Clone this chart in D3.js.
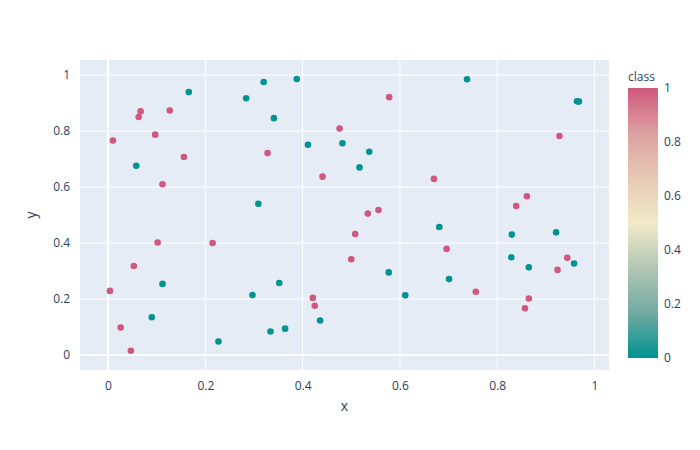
<!DOCTYPE html>
<html>
<head>
<meta charset="utf-8">
<script src="https://cdn.jsdelivr.net/npm/d3@7"></script>
<style>
body { margin: 0; background: #fff; }
text { font-family: "Open Sans", Verdana, sans-serif; fill: #2a3f5f; }
</style>
</head>
<body>
<svg id="chart" width="700" height="450"></svg>
<script>
// class 0 (teal) points
var teal = [
  [0.166,0.939],[0.320,0.975],[0.388,0.986],[0.284,0.917],[0.341,0.846],[0.411,0.751],
  [0.482,0.756],[0.058,0.676],[0.309,0.540],[0.112,0.254],[0.352,0.257],[0.297,0.214],
  [0.090,0.135],[0.436,0.123],[0.334,0.084],[0.364,0.094],[0.227,0.048],[0.738,0.985],
  [0.964,0.906],[0.968,0.905],[0.537,0.726],[0.517,0.670],[0.681,0.457],[0.830,0.430],
  [0.921,0.438],[0.829,0.349],[0.958,0.327],[0.865,0.313],[0.577,0.295],[0.701,0.271],
  [0.611,0.213]
];
// class 1 (rose) points
var rose = [
  [0.067,0.870],[0.127,0.873],[0.063,0.850],[0.476,0.809],[0.010,0.766],[0.097,0.787],
  [0.156,0.707],[0.328,0.721],[0.441,0.637],[0.112,0.610],[0.102,0.402],[0.215,0.400],
  [0.053,0.318],[0.004,0.229],[0.421,0.204],[0.425,0.176],[0.026,0.098],[0.047,0.015],
  [0.578,0.921],[0.928,0.782],[0.670,0.629],[0.861,0.567],[0.839,0.532],[0.556,0.518],
  [0.534,0.505],[0.508,0.432],[0.696,0.379],[0.500,0.342],[0.944,0.347],[0.924,0.304],
  [0.756,0.226],[0.865,0.202],[0.857,0.167]
];
var xTicks = [0, 0.2, 0.4, 0.6, 0.8, 1];
var yTicks = [0, 0.2, 0.4, 0.6, 0.8, 1];
var cbTicks = [0, 0.2, 0.4, 0.6, 0.8, 1];
var tealrose = ["rgb(0,147,146)","rgb(114,170,161)","rgb(177,199,179)","rgb(241,234,200)",
  "rgb(230,201,180)","rgb(220,160,160)","rgb(208,88,126)"];

var points = teal.map(function (d) { return {x: d[0], y: d[1], c: 0}; })
  .concat(rose.map(function (d) { return {x: d[0], y: d[1], c: 1}; }));

var svg = d3.select("#chart");
var L = 80, R = 609, T = 60, B = 370;
var x = d3.scaleLinear().domain([-0.0576, 1.0298]).range([L, R]);
var y = d3.scaleLinear().domain([-0.0536, 1.0536]).range([B, T]);
var color = d3.scaleLinear()
  .domain(tealrose.map(function (d, i) { return i / (tealrose.length - 1); }))
  .range(tealrose);

svg.append("rect").attr("x", L).attr("y", T).attr("width", R - L).attr("height", B - T)
  .attr("fill", "#e5ecf6");

svg.append("g").selectAll("line").data(xTicks).enter().append("line")
  .attr("x1", function (d) { return x(d); }).attr("x2", function (d) { return x(d); })
  .attr("y1", T).attr("y2", B)
  .attr("stroke", "#fff").attr("stroke-width", function (d) { return d === 0 ? 2 : 1; });
svg.append("g").selectAll("line").data(yTicks).enter().append("line")
  .attr("y1", function (d) { return y(d); }).attr("y2", function (d) { return y(d); })
  .attr("x1", L).attr("x2", R)
  .attr("stroke", "#fff").attr("stroke-width", function (d) { return d === 0 ? 2 : 1; });

var fmt = function (d) { return d === 0 || d === 1 ? String(d) : d3.format(".1f")(d); };

var xAxis = svg.append("g").attr("transform", "translate(0," + (B + 6) + ")")
  .call(d3.axisBottom(x).tickValues(xTicks).tickFormat(fmt).tickSize(0));
var yAxis = svg.append("g").attr("transform", "translate(" + (L - 7) + ",0)")
  .call(d3.axisLeft(y).tickValues(yTicks).tickFormat(fmt).tickSize(0));
[xAxis, yAxis].forEach(function (a) {
  a.select(".domain").remove();
  a.selectAll("text").attr("font-size", 12).attr("fill", "#2a3f5f")
    .style("font-family", "'Open Sans', Verdana, sans-serif");
});
xAxis.selectAll("text").attr("dy", "0.9em");

svg.append("text").attr("x", (L + R) / 2).attr("y", 411).attr("text-anchor", "middle")
  .attr("font-size", 14).text("x");
svg.append("text").attr("transform", "translate(36," + ((T + B) / 2) + ") rotate(-90)")
  .attr("text-anchor", "middle").attr("font-size", 14).text("y");

svg.append("g").selectAll("circle").data(points).enter().append("circle")
  .attr("cx", function (d) { return x(d.x); })
  .attr("cy", function (d) { return y(d.y); })
  .attr("r", 3.3)
  .attr("fill", function (d) { return color(d.c); });

// colorbar
var cbX = 628, cbW = 30, cbT = 88, cbB = 358;
var grad = svg.append("defs").append("linearGradient").attr("id", "cb")
  .attr("x1", 0).attr("y1", 1).attr("x2", 0).attr("y2", 0);
grad.selectAll("stop").data(tealrose).enter().append("stop")
  .attr("offset", function (d, i) { return i / (tealrose.length - 1); })
  .attr("stop-color", function (d) { return d; });
svg.append("rect").attr("x", cbX).attr("y", cbT).attr("width", cbW).attr("height", cbB - cbT)
  .attr("fill", "url(#cb)");
var cbScale = d3.scaleLinear().domain([0, 1]).range([cbB, cbT]);
var cbAxis = svg.append("g").attr("transform", "translate(" + (cbX + cbW + 3) + ",0)")
  .call(d3.axisRight(cbScale).tickValues(cbTicks).tickFormat(fmt).tickSize(0));
cbAxis.select(".domain").remove();
cbAxis.selectAll("text").attr("font-size", 12).attr("fill", "#2a3f5f")
  .style("font-family", "'Open Sans', Verdana, sans-serif");
svg.append("text").attr("x", cbX).attr("y", 81).attr("font-size", 12).text("class");
</script>
</body>
</html>
